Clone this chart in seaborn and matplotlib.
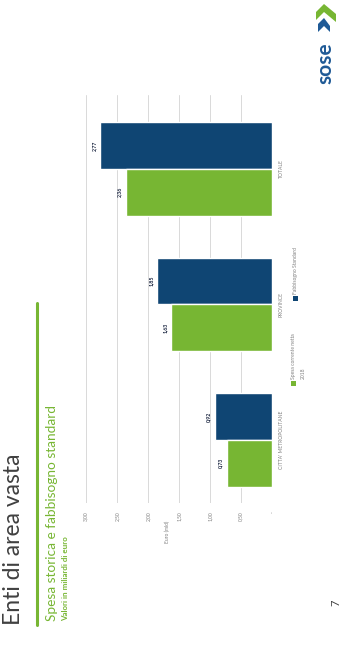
import matplotlib
matplotlib.use("Agg")
import matplotlib.pyplot as plt
import seaborn as sns
import pandas as pd
from matplotlib.patches import Polygon, Rectangle
from matplotlib.lines import Line2D

# ---- data ----
categories = ["TOTALE", "PROVINCE", "CITTA' METROPOLITANE"]
spesa_2018 = [2.36, 1.63, 0.73]
fabbisogno = [2.77, 1.85, 0.92]
series_names = ["Fabbisogno Standard", "Spesa corrente netta 2018"]
tick_values = [0, 0.5, 1.0, 1.5, 2.0, 2.5, 3.0]
tick_labels = ["-", "0,50", "1,00", "1,50", "2,00", "2,50", "3,00"]

BLUE = "#0F4573"
GREEN = "#77B633"
GREY = "#808080"

df = pd.DataFrame({
    "cat": categories * 2,
    "val": fabbisogno + spesa_2018,
    "serie": [series_names[0]] * 3 + [series_names[1]] * 3,
})

sns.set_theme(style="white")
plt.rcParams["font.family"] = ["Lato", "DejaVu Sans"]

W, H = 342, 653
fig = plt.figure(figsize=(W / 100, H / 100), dpi=100)

def fx(px):
    return px / W

def fy(py):
    return 1 - py / H

ax = fig.add_axes([fx(86), fy(503), (272 - 86) / W, (503 - 95) / H])
sns.barplot(data=df, y="cat", x="val", hue="serie", hue_order=series_names,
            palette=[BLUE, GREEN], orient="h", width=0.69, saturation=1,
            legend=False, ax=ax, order=categories)
ax.set_xlim(3.0, 0)
ax.set_ylim(2.465, -0.546)
for s in ax.spines.values():
    s.set_visible(False)
ax.set_xticks(tick_values)
ax.set_xticklabels(tick_labels, rotation=90, fontsize=3.6, color=GREY)
ax.tick_params(axis="x", length=0, pad=6)
ax.grid(axis="x", color="#d9d9d9", linewidth=0.7)
ax.set_axisbelow(True)
ax.yaxis.tick_right()
ax.set_yticks(range(len(categories)))
ax.set_yticklabels(categories, rotation=90, fontsize=3.6, color=GREY, va="center")
ax.tick_params(axis="y", length=0, pad=5)
ax.set_xlabel("")
ax.set_ylabel("")

# value labels
for patch in ax.patches:
    w = patch.get_width()
    if w <= 0:
        continue
    yc = patch.get_y() + patch.get_height() / 2
    ax.annotate(f"{w:.2f}".replace(".", ","), (w, yc), xytext=(-2.5, 0),
                textcoords="offset points", rotation=90, ha="right", va="center",
                fontsize=3.8, fontweight="bold", color="#1a2540")

# axis label
fig.text(fx(167), fy(532), "Euro (mld)", rotation=90, ha="center", va="center",
         fontsize=3.5, color=GREY)

# legend (manual, rotated)
fig.add_artist(Rectangle((fx(292.5), fy(301)), 5 / W, 5 / H, transform=fig.transFigure,
                         color=BLUE, lw=0))
fig.text(fx(295), fy(294), "Fabbisogno Standard", rotation=90, ha="center", va="bottom",
         fontsize=3.6, color=GREY)
fig.add_artist(Rectangle((fx(290.5), fy(386)), 5 / W, 5 / H, transform=fig.transFigure,
                         color=GREEN, lw=0))
fig.text(fx(293), fy(379), "Spesa corrente netta", rotation=90, ha="center", va="bottom",
         fontsize=3.6, color=GREY)
fig.text(fx(303), fy(379), "2018", rotation=90, ha="center", va="bottom",
         fontsize=3.6, color=GREY)

# titles
fig.text(fx(14), fy(625), "Enti di area vasta", rotation=90, ha="center", va="bottom",
         fontsize=16.5, color="#404040")
fig.add_artist(Line2D([fx(37), fx(37)], [fy(625), fy(303)], transform=fig.transFigure,
                      color=GREEN, linewidth=2.2))
fig.text(fx(52), fy(621), "Spesa storica e fabbisogno standard", rotation=90,
         ha="center", va="bottom", fontsize=9.8, color=GREEN)
fig.text(fx(66), fy(621), "Valori in miliardi di euro", rotation=90,
         ha="center", va="bottom", fontsize=5.8, color=GREEN, fontweight="bold")
fig.text(fx(336), fy(603), "7", rotation=90, ha="center", va="center",
         fontsize=8, color="#404040")

# logo
fig.text(fx(325), fy(84), "sose", rotation=90, ha="center", va="bottom",
         fontsize=15, color="#1F5A96", fontweight="bold")
def poly(pts, color):
    fig.add_artist(Polygon([(fx(x), fy(y)) for x, y in pts], closed=True,
                           transform=fig.transFigure, color=color, lw=0))
poly([(316, 12), (324, 4), (336, 14), (336, 22), (324, 12), (316, 20)], GREEN)
poly([(318, 24), (324, 18), (330, 26), (330, 32), (324, 26), (318, 32)], "#1F5A96")

fig.savefig("out.png", dpi=100)
